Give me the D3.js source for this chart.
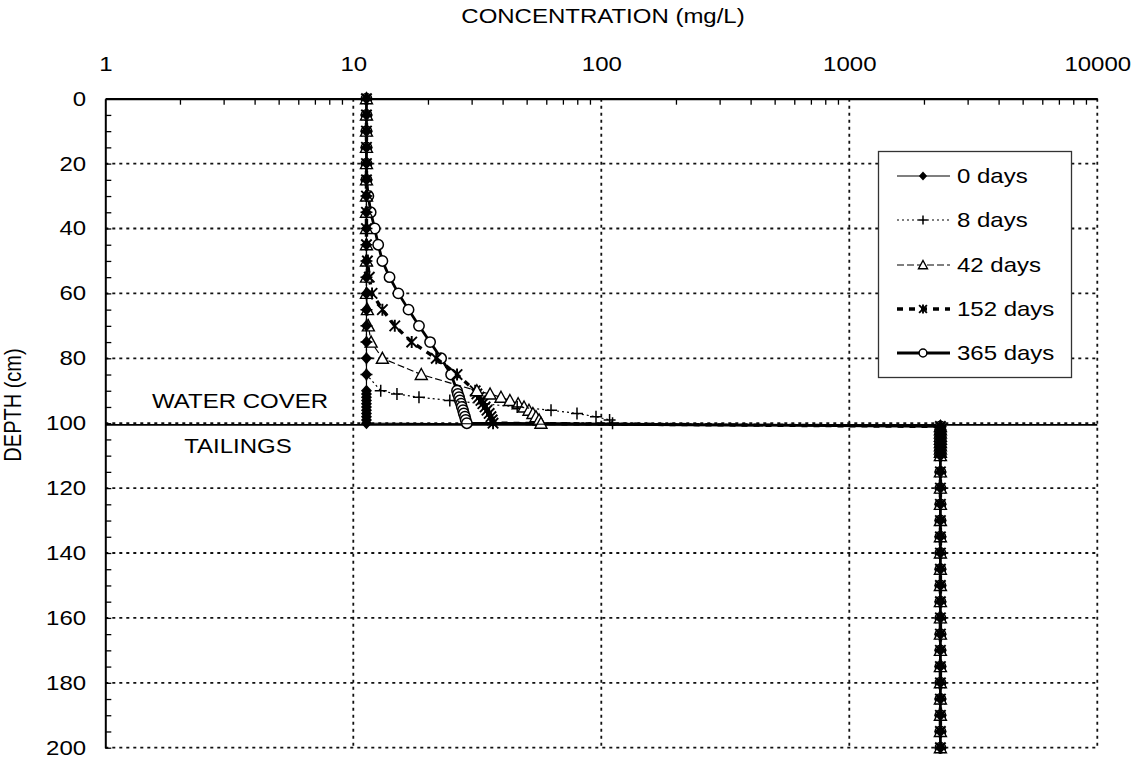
<!DOCTYPE html>
<html>
<head>
<meta charset="utf-8">
<script src="https://cdn.jsdelivr.net/npm/d3@7"></script>
<style>
  html, body { margin: 0; padding: 0; background: #fff; }
  svg { display: block; font-family: "Liberation Sans", Arial, sans-serif; }
</style>
</head>
<body>
<svg id="chart" width="1139" height="758"></svg>
<script>
// Depth profile of dissolved concentration through the water cover and the tailings

// Depths (cm) of the water-cover nodes
const waterDepths = [0, 5, 10, 15, 20, 25, 30, 35, 40, 45, 50, 55, 60, 65, 70, 75, 80, 85,
                     90, 91, 92, 93, 94, 95, 96, 97, 98, 99, 100];
// Depths (cm) of the tailings nodes
const tailingsDepths = [101, 102, 103, 104, 105, 106, 107, 108, 109, 110,
                        115, 120, 125, 130, 135, 140, 145, 150, 155, 160, 165, 170,
                        175, 180, 185, 190, 195, 200];

// Water-cover concentrations (mg/L) for each elapsed time
const conc0days = [11.3, 11.3, 11.3, 11.3, 11.3, 11.3, 11.3, 11.3, 11.3, 11.3, 11.3, 11.3, 11.3, 11.3, 11.3,
                   11.3, 11.3, 11.3, 11.3, 11.3, 11.3, 11.3, 11.3, 11.3, 11.3, 11.3, 11.3, 11.3, 11.3];
const conc8days = [11.3, 11.3, 11.3, 11.3, 11.3, 11.3, 11.3, 11.3, 11.3, 11.3, 11.3, 11.3, 11.3, 11.3, 11.3,
                   11.3, 11.3, 11.3, 12.9, 15.0, 18.4, 24.5, 33.6, 45.8, 62.7, 79.8, 95.2, 108, 111];
const conc42days = [11.3, 11.3, 11.3, 11.3, 11.3, 11.3, 11.3, 11.3, 11.3, 11.3, 11.3, 11.3, 11.3, 11.4, 11.5,
                    11.8, 13.1, 18.8, 31.5, 35.6, 39.4, 42.8, 46.2, 48.8, 51.1, 53.0, 54.5, 56.1, 57.1];
const conc152days = [11.3, 11.3, 11.3, 11.3, 11.3, 11.3, 11.3, 11.3, 11.3, 11.3, 11.4, 11.6, 11.9, 13.1, 14.7,
                     17.2, 21.6, 26.2, 31.0, 31.5, 32.1, 32.7, 33.3, 34.0, 34.6, 35.3, 35.9, 36.3, 36.6];
const conc365days = [11.3, 11.3, 11.3, 11.3, 11.3, 11.3, 11.5, 11.75, 12.2, 12.6, 13.1, 14.0, 15.2, 16.7, 18.4,
                     20.4, 22.6, 24.8, 26.2, 26.4, 26.7, 26.9, 27.2, 27.4, 27.7, 27.9, 28.2, 28.4, 28.7];

// Tailings pore-water concentration (mg/L), shared by every profile
const tailingsConc = [2330, 2330, 2330, 2330, 2330, 2330, 2330, 2330, 2330, 2330,
                      2330, 2330, 2330, 2330, 2330, 2330, 2330, 2330, 2330, 2330, 2330, 2330,
                      2330, 2330, 2330, 2330, 2330, 2330];

const seriesNames = ["0 days", "8 days", "42 days", "152 days", "365 days"];
const seriesConc = [conc0days, conc8days, conc42days, conc152days, conc365days];

// Axis ticks
const xTickValues = [1, 10, 100, 1000, 10000];
const yTickValues = [0, 20, 40, 60, 80, 100, 120, 140, 160, 180, 200];
const interfaceDepth = 100.5;

// ---- drawing ----
const svg = d3.select("#chart");
const FONT = 20, STRETCH = 1.2;

const x = d3.scaleLog().domain([1, 10000]).range([105.3, 1097.3]);
const y = d3.scaleLinear().domain([0, 200]).range([98.7, 747.7]);

// line and marker styles for each profile
const styles = {
  "0 days":   { dash: null,      width: 1.2, marker: "diamond" },
  "8 days":   { dash: "2,3",     width: 1.2, marker: "plus" },
  "42 days":  { dash: "7,3",     width: 1.2, marker: "triangle" },
  "152 days": { dash: "6,6",     width: 3.4, marker: "star" },
  "365 days": { dash: null,      width: 2.8, marker: "circle" }
};

function drawMarker(g, type, s) {
  s = s || 1;
  if (type === "diamond") {
    g.append("path").attr("d", `M0,${-6*s}L${5.5*s},0L0,${6*s}L${-5.5*s},0Z`).attr("fill", "#000");
  } else if (type === "plus") {
    g.append("path").attr("d", `M${-6*s},0H${6*s}M0,${-6*s}V${6*s}`)
      .attr("stroke", "#000").attr("stroke-width", 1.5).attr("fill", "none");
  } else if (type === "triangle") {
    g.append("path").attr("d", `M0,${-6*s}L${6*s},${5*s}L${-6*s},${5*s}Z`)
      .attr("fill", "#fff").attr("stroke", "#000").attr("stroke-width", 1.4);
  } else if (type === "star") {
    g.append("path").attr("d",
      `M0,${-6*s}V${6*s}M${-5.2*s},${-5.2*s}L${5.2*s},${5.2*s}M${-5.2*s},${5.2*s}L${5.2*s},${-5.2*s}`)
      .attr("stroke", "#000").attr("stroke-width", 1.9).attr("fill", "none");
  } else if (type === "circle") {
    g.append("circle").attr("r", 5.2 * s)
      .attr("fill", "#fff").attr("stroke", "#000").attr("stroke-width", 1.5);
  }
}

// gridlines
const grid = svg.append("g").attr("stroke", "#111").attr("stroke-width", 1.8)
  .attr("stroke-dasharray", "3,4");
grid.selectAll("line.v").data(xTickValues.slice(1)).join("line")
  .attr("x1", d => x(d)).attr("x2", d => x(d)).attr("y1", y(0)).attr("y2", y(200));
grid.selectAll("line.h").data(yTickValues.slice(1)).join("line")
  .attr("x1", x(1)).attr("x2", x(10000)).attr("y1", d => y(d)).attr("y2", d => y(d));

// minor ticks along the top axis (2..9 in each decade)
const minorX = [];
for (let p = 0; p < 4; p++) for (let m = 2; m <= 9; m++) minorX.push(m * Math.pow(10, p));
svg.append("g").attr("transform", `translate(0,${y(0)})`)
  .call(d3.axisTop(x).tickValues(minorX).tickSize(-6).tickFormat(""))
  .call(g => g.select(".domain").remove())
  .selectAll("line").attr("stroke", "#000").attr("stroke-width", 1.3);

// minor ticks along the depth axis (every 5 cm)
svg.append("g").attr("transform", `translate(${x(1)},0)`)
  .call(d3.axisLeft(y).ticks(40).tickSize(-6).tickFormat(""))
  .call(g => g.select(".domain").remove())
  .selectAll("line").attr("stroke", "#000").attr("stroke-width", 1.3);

// top axis with labels
svg.append("g").attr("transform", `translate(0,${y(0)})`)
  .call(d3.axisTop(x).tickValues(xTickValues).tickSize(0).tickPadding(27.7).tickFormat(d3.format("d")))
  .call(g => g.select(".domain").attr("stroke", "#000").attr("stroke-width", 2.2))
  .call(g => g.selectAll("text").attr("font-size", FONT).attr("fill", "#000")
    .attr("font-family", "Liberation Sans, Arial, sans-serif")
    .attr("transform", `scale(${STRETCH},1)`));

// depth axis with labels
svg.append("g").attr("transform", `translate(${x(1)},0)`)
  .call(d3.axisLeft(y).tickValues(yTickValues).tickSize(0).tickPadding(16))
  .call(g => g.select(".domain").attr("stroke", "#000").attr("stroke-width", 2))
  .call(g => g.selectAll("text").attr("font-size", FONT).attr("fill", "#000")
    .attr("font-family", "Liberation Sans, Arial, sans-serif")
    .attr("transform", `scale(${STRETCH},1)`));

// axis titles
function label(txt, cx, by, anchor) {
  svg.append("text").attr("transform", `translate(${cx},${by}) scale(${STRETCH},1)`)
    .attr("text-anchor", anchor || "middle").attr("font-size", FONT).attr("fill", "#000").text(txt);
}
label("CONCENTRATION (mg/L)", 603, 23);
svg.append("text").attr("transform", `translate(21,405) rotate(-90) scale(1,${STRETCH})`)
  .attr("text-anchor", "middle").attr("font-size", FONT).attr("fill", "#000").text("DEPTH (cm)");

// water cover / tailings interface
svg.append("line").attr("x1", x(1)).attr("x2", x(10000))
  .attr("y1", y(interfaceDepth)).attr("y2", y(interfaceDepth))
  .attr("stroke", "#000").attr("stroke-width", 1.8);
label("WATER COVER", 240, 408);
label("TAILINGS", 238, 453);

// profiles (drawn last-to-first so the early profiles sit on top)
const line = d3.line().x(d => x(d.c)).y(d => y(d.d));
const profiles = seriesNames.map((name, i) => ({
  name,
  points: waterDepths.map((d, j) => ({ d, c: seriesConc[i][j] }))
    .concat(tailingsDepths.map((d, j) => ({ d, c: tailingsConc[j] })))
}));

profiles.slice().reverse().forEach(p => {
  const st = styles[p.name];
  const g = svg.append("g");
  g.append("path").datum(p.points).attr("d", line)
    .attr("fill", "none").attr("stroke", "#000").attr("stroke-width", st.width)
    .attr("stroke-dasharray", st.dash);
  g.selectAll("g.m").data(p.points).join("g")
    .attr("transform", d => `translate(${x(d.c)},${y(d.d)})`)
    .each(function () { drawMarker(d3.select(this), st.marker, 1); });
});

// legend
const lg = svg.append("g");
lg.append("rect").attr("x", 878.5).attr("y", 151.5).attr("width", 193).attr("height", 226)
  .attr("fill", "#fff").attr("stroke", "#333").attr("stroke-width", 1.3);
const rowY = [176, 220, 265, 309, 353];
seriesNames.forEach((name, i) => {
  const st = styles[name];
  const r = lg.append("g").attr("transform", `translate(0,${rowY[i]})`);
  r.append("line").attr("x1", 897).attr("x2", 950).attr("y1", 0).attr("y2", 0)
    .attr("stroke", "#000").attr("stroke-width", st.width).attr("stroke-dasharray", st.dash);
  drawMarker(r.append("g").attr("transform", "translate(923,0)"), st.marker, 0.75);
  r.append("text").attr("transform", `translate(957,7) scale(${STRETCH},1)`)
    .attr("font-size", FONT).attr("fill", "#000").text(name);
});
</script>
</body>
</html>
